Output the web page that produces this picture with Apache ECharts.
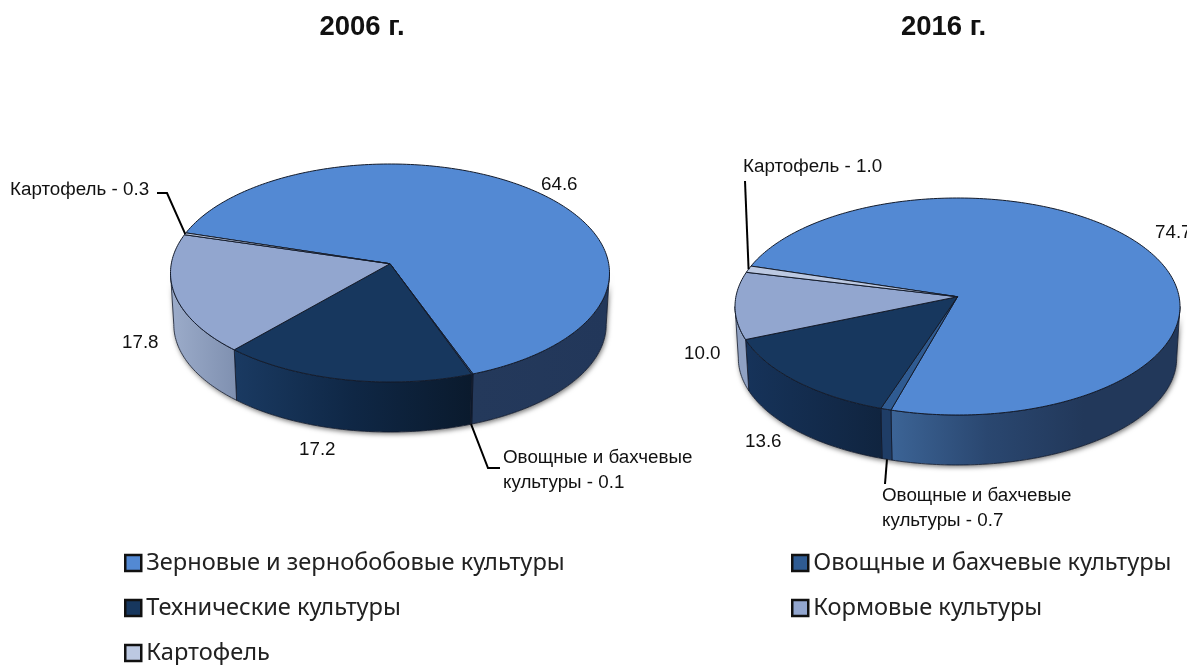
<!DOCTYPE html>
<html>
<head>
<meta charset="utf-8">
<script src="https://cdn.jsdelivr.net/npm/echarts@6/dist/echarts.min.js"></script>
<style>html,body{margin:0;padding:0;background:#fff}#c{width:1187px;height:665px}</style>
</head>
<body>
<div id="c"></div>
<script>
// ---- data ----
const years = ['2006 г.', '2016 г.'];
const categories = ['Зерновые и зернобобовые культуры', 'Овощные и бахчевые культуры', 'Технические культуры', 'Кормовые культуры', 'Картофель'];
const values2006 = [64.6, 0.1, 17.2, 17.8, 0.3];
const values2016 = [74.7, 0.7, 13.6, 10.0, 1.0];

// ---- look ----
const valueSets = [values2006, values2016];
const topColors = ['#5389d3', '#2f5b92', '#17375e', '#92a6cf', '#bcc9e2'];
const wallColors = [
  [['#24395b', '#22375a'], ['#0a1a2e', '#0a1a2e'], ['#1a3a62', '#0f2745', '#0a1a2d'], ['#9cacca', '#7f90b0'], ['#8fa1c3', '#8fa1c3']],
  [['#3c6496', '#2a4770', '#22385a', '#22385a'], ['#1f3d66', '#1f3d66'], ['#16335a', '#10243f'], ['#8fa1c3', '#8fa1c3'], ['#8fa1c3', '#8fa1c3']]
];
const pies = [
  { cx: 390, cy: 273, rx: 219.5, ry: 109, depth: 50, k: 0.085, start: 197 },
  { cx: 957.5, cy: 306.5, rx: 222.5, ry: 108.5, depth: 50, k: 0.09, start: 197 }
];
const bottomScale = 0.985;
const labelFont = '18.8px "Liberation Sans", Arial, sans-serif';
const labelSpots = [
  [
    { x: 541, y: 185 },
    { x: 503, y: 470, long: 'Овощные и бахчевые\nкультуры', path: [[488, 468], [500, 468]] },
    { x: 299, y: 450 },
    { x: 122, y: 343 },
    { x: 10, y: 190, long: 'Картофель', path: [[167, 193], [157, 193]] }
  ],
  [
    { x: 1155, y: 233 },
    { x: 882, y: 508, long: 'Овощные и бахчевые\nкультуры', path: [[885, 484]] },
    { x: 745, y: 442 },
    { x: 684, y: 354 },
    { x: 743, y: 167, long: 'Картофель', path: [[745, 181]] }
  ]
];

// true pie angle (deg, clockwise) -> parameter on the tilted rim ellipse (deg)
function rimParam(pie, deg) {
  const a = deg * Math.PI / 180, x = Math.cos(a), y = Math.sin(a), k = pie.k;
  const d = 1 - k * y;
  let t = Math.atan2((y - k) / d, x * Math.sqrt(1 - k * k) / d) * 180 / Math.PI;
  while (t < deg - 90) t += 360;
  while (t > deg + 90) t -= 360;
  return t;
}
function topPoint(pie, t) {
  const a = t * Math.PI / 180;
  return [pie.cx + pie.rx * Math.cos(a), pie.cy + pie.ry * Math.sin(a)];
}
function lowPoint(pie, t) {
  const a = t * Math.PI / 180, s = bottomScale;
  return [pie.cx + pie.rx * s * Math.cos(a), pie.cy + pie.depth + pie.ry * (1 - s) + pie.ry * s * Math.sin(a)];
}
function samples(a, b) {
  const out = [], n = Math.max(2, Math.ceil((b - a) / 1));
  for (let i = 0; i <= n; i++) out.push(a + (b - a) * i / n);
  return out;
}

function renderSlice(params, api) {
  const p = params.dataIndex, c = params.seriesIndex;
  const pie = pies[p], vals = valueSets[p];
  const value = api.value(0);
  const before = vals.slice(0, c).reduce((s, v) => s + v, 0);
  const phi0 = pie.start + before * 3.6, phi1 = phi0 + value * 3.6;
  const t0 = rimParam(pie, phi0), t1 = rimParam(pie, phi1);
  const children = [];

  // side wall: only the part of the rim that faces the viewer
  [[0, 180], [360, 540], [720, 900]].forEach(([lo, hi]) => {
    const a = Math.max(t0, lo), b = Math.min(t1, hi);
    if (b <= a) return;
    const ts = samples(a, b);
    const pts = ts.map(t => topPoint(pie, t)).concat(ts.slice().reverse().map(t => lowPoint(pie, t)));
    children.push({
      type: 'polygon', z2: 0, shape: { points: pts },
      style: { fill: '#fff', shadowBlur: 5, shadowColor: 'rgba(0,0,0,0.55)', shadowOffsetX: 1, shadowOffsetY: 2 }
    });
    const cols = wallColors[p][c];
    children.push({
      type: 'polygon', z2: 1, shape: { points: pts },
      style: {
        fill: { type: 'linear', x: 1, y: 0, x2: 0, y2: 0, global: false,
          colorStops: cols.map((col, i) => ({ offset: 1 - i / (cols.length - 1), color: col })) },
        stroke: '#10182a', lineWidth: 0.8
      }
    });
  });

  // top face
  const apex = [pie.cx, pie.cy - pie.k * pie.ry];
  const top = [apex].concat(samples(t0, t1).map(t => topPoint(pie, t)));
  children.push({
    type: 'polygon', z2: 5, shape: { points: top },
    style: { fill: topColors[c], stroke: '#141c2c', lineWidth: 1 }
  });

  // labels and leader lines
  const spot = labelSpots[p][c];
  const text = spot.long ? spot.long + ' - ' + value.toFixed(1) : value.toFixed(1);
  if (spot.path) {
    const tm = (t0 + t1) / 2, front = Math.sin(tm * Math.PI / 180) > 0;
    const from = front ? lowPoint(pie, tm) : topPoint(pie, tm);
    children.push({
      type: 'polyline', z2: 8, shape: { points: [from].concat(spot.path) },
      style: { fill: null, stroke: '#000', lineWidth: 2 }
    });
  }
  children.push({
    type: 'text', z2: 9, x: spot.x, y: spot.y,
    style: { text: text, font: labelFont, fill: '#111', align: 'left', verticalAlign: 'middle', lineHeight: 25 }
  });
  return { type: 'group', children: children };
}

const legendText = { fontFamily: '"Noto Sans", sans-serif', fontSize: 23.6, color: '#222', lineHeight: 16 };
const legendBase = {
  orient: 'vertical', padding: 0, itemWidth: 16, itemHeight: 16, itemGap: 21, icon: 'rect', height: 130,
  selectedMode: false, textStyle: legendText,
  itemStyle: { borderColor: '#111', borderWidth: 2.5 }
};

const chart = echarts.init(document.getElementById('c'));
chart.setOption({
  animation: false,
  backgroundColor: '#fff',
  title: years.map((y, i) => ({
    text: y, left: [362, 943.5][i], top: 27, textAlign: 'center', textVerticalAlign: 'middle', padding: 0,
    textStyle: { fontFamily: '"Liberation Sans", Arial, sans-serif', fontWeight: 'bold', fontSize: 27.5, color: '#111' }
  })),
  legend: [
    Object.assign({}, legendBase, { left: 124, top: 551, data: [categories[0], categories[2], categories[4]] }),
    Object.assign({}, legendBase, { left: 791, top: 551, data: [categories[1], categories[3]] })
  ],
  series: categories.map((name, c) => ({
    type: 'custom',
    name: name,
    coordinateSystem: 'none',
    silent: true,
    itemStyle: { color: topColors[c] },
    data: valueSets.map(v => [v[c]]),
    renderItem: renderSlice
  }))
});
</script>
</body>
</html>
